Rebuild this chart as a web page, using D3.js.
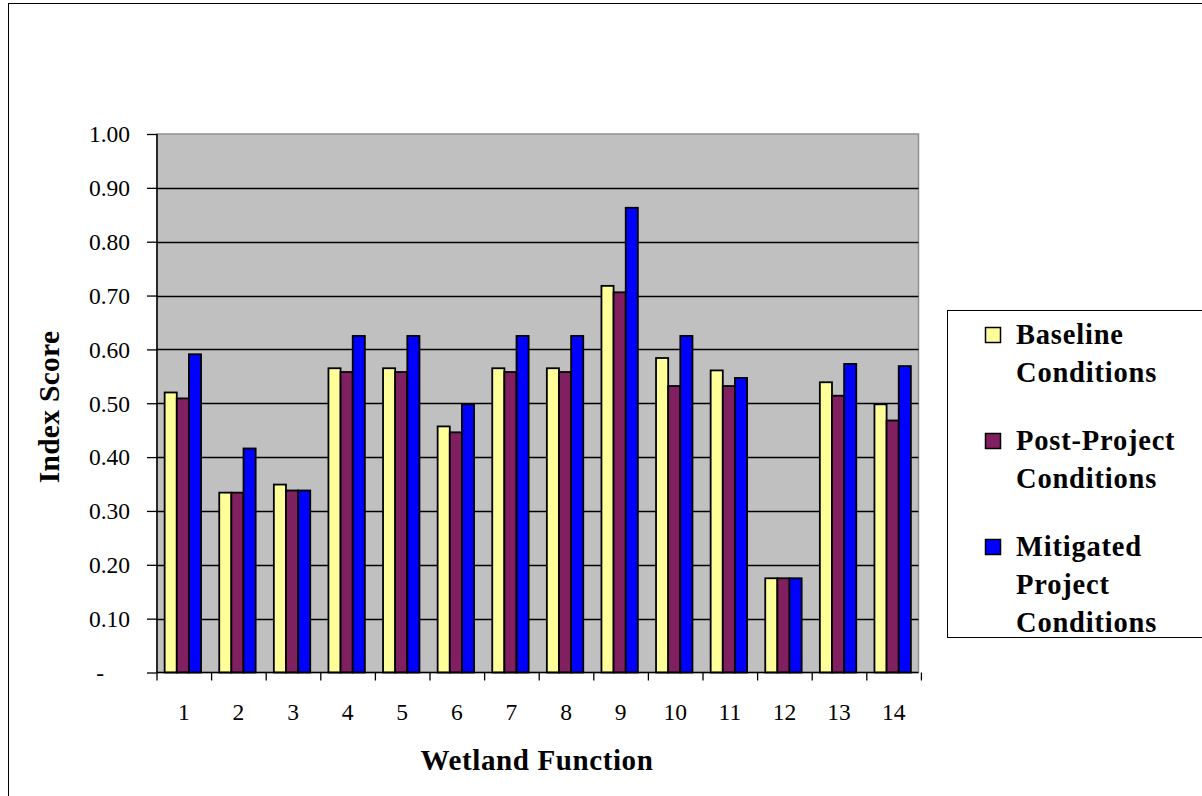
<!DOCTYPE html>
<html>
<head>
<meta charset="utf-8">
<script src="https://cdn.jsdelivr.net/npm/d3@7"></script>
<style>
  html, body { margin: 0; padding: 0; background: #fff; }
  svg { display: block; }
  text { font-family: "Liberation Serif", "Times New Roman", serif; fill: #000; }
</style>
</head>
<body>
<svg id="chart" width="1202" height="796"></svg>
<script>
// ---- data ----
const categories = ["1","2","3","4","5","6","7","8","9","10","11","12","13","14"];
const seriesNames = ["Baseline Conditions", "Post-Project Conditions", "Mitigated Project Conditions"];
const baseline    = [0.52, 0.334, 0.349, 0.565, 0.565, 0.457, 0.565, 0.565, 0.718, 0.584, 0.561, 0.175, 0.539, 0.498];
const postProject = [0.509, 0.334, 0.338, 0.558, 0.558, 0.446, 0.558, 0.558, 0.706, 0.532, 0.532, 0.175, 0.514, 0.468];
const mitigated   = [0.591, 0.416, 0.338, 0.625, 0.625, 0.498, 0.625, 0.625, 0.863, 0.625, 0.547, 0.175, 0.573, 0.569];
const yTicks = [0, 0.1, 0.2, 0.3, 0.4, 0.5, 0.6, 0.7, 0.8, 0.9, 1.0];
const yTickLabels = ["-", "0.10", "0.20", "0.30", "0.40", "0.50", "0.60", "0.70", "0.80", "0.90", "1.00"];
const legendLines = [["Baseline", "Conditions"], ["Post-Project", "Conditions"], ["Mitigated", "Project", "Conditions"]];
const colors = ["#FFFF99", "#802060", "#0000FF"];

const seriesValues = [baseline, postProject, mitigated];

const svg = d3.select("#chart");

// outer chart border
svg.append("rect").attr("x", 8.5).attr("y", 3.5).attr("width", 1300).attr("height", 900)
  .attr("fill", "#fff").attr("stroke", "#000").attr("stroke-width", 1);

const plot = { left: 157, right: 918.5, top: 134, bottom: 672.5 };

const x = d3.scaleBand().domain(categories).range([plot.left, plot.right])
  .paddingInner(1/3).paddingOuter(0.14);
const xs = d3.scaleBand().domain(d3.range(seriesNames.length)).range([0, x.bandwidth()]).padding(0);
const y = d3.scaleLinear().domain([0, 1]).range([plot.bottom, plot.top]);

// plot background
svg.append("rect").attr("x", plot.left).attr("y", plot.top)
  .attr("width", plot.right - plot.left).attr("height", plot.bottom - plot.top)
  .attr("fill", "#C0C0C0").attr("stroke", "#909090").attr("stroke-width", 1.5);

// gridlines
svg.append("g").selectAll("line").data(yTicks.filter(t => t > 0 && t < 1)).join("line")
  .attr("x1", plot.left).attr("x2", plot.right)
  .attr("y1", d => Math.round(y(d)) + 0.5).attr("y2", d => Math.round(y(d)) + 0.5)
  .attr("stroke", "#000").attr("stroke-width", 1.3);

// bars
const groups = svg.append("g").selectAll("g").data(categories).join("g")
  .attr("transform", c => `translate(${x(c)},0)`);
groups.selectAll("rect").data((c, i) => seriesValues.map((vals, s) => ({ s, v: vals[i] }))).join("rect")
  .attr("x", d => xs(d.s))
  .attr("y", d => y(d.v))
  .attr("width", xs.bandwidth())
  .attr("height", d => y(0) - y(d.v))
  .attr("fill", d => colors[d.s])
  .attr("stroke", "#000").attr("stroke-width", 1.8);

// y axis
const yAxis = d3.axisLeft(y).tickValues(yTicks).tickSize(10).tickPadding(17)
  .tickFormat((d, i) => yTickLabels[i]);
const yg = svg.append("g").attr("transform", `translate(${plot.left},0)`).call(yAxis);
yg.select(".domain").attr("stroke", "#000").attr("stroke-width", 1.5).attr("d", `M0,${plot.top}V${plot.bottom}`);
yg.selectAll(".tick line").attr("stroke", "#000").attr("stroke-width", 1.3);
yg.selectAll(".tick text")
  .attr("font-size", 23.5).attr("dy", "0.33em")
  .attr("dx", (d, i) => yTickLabels[i] === "-" ? -26 : 0);

// x axis line and boundary ticks
svg.append("line").attr("x1", plot.left).attr("x2", plot.right)
  .attr("y1", plot.bottom).attr("y2", plot.bottom).attr("stroke", "#000").attr("stroke-width", 1.5);
const bounds = d3.range(categories.length + 1).map(i => plot.left + i * x.step());
svg.append("g").selectAll("line").data(bounds).join("line")
  .attr("x1", d => d).attr("x2", d => d)
  .attr("y1", plot.bottom).attr("y2", plot.bottom + 8)
  .attr("stroke", "#000").attr("stroke-width", 1.3);
svg.append("g").selectAll("text").data(categories).join("text")
  .attr("x", c => x(c) + x.bandwidth() / 2 + 1)
  .attr("y", 720)
  .attr("text-anchor", "middle").attr("font-size", 23.5)
  .text(c => c);

// axis titles
svg.append("text").attr("x", 537).attr("y", 770).attr("text-anchor", "middle")
  .attr("font-size", 29).attr("font-weight", "bold").attr("letter-spacing", 0.6).text("Wetland Function");
svg.append("text").attr("transform", "translate(59,407) rotate(-90)").attr("text-anchor", "middle")
  .attr("font-size", 29.5).attr("font-weight", "bold").attr("letter-spacing", 0.3).text("Index Score");

// legend
svg.append("rect").attr("x", 947.5).attr("y", 310.5).attr("width", 300).attr("height", 327)
  .attr("fill", "#fff").attr("stroke", "#000").attr("stroke-width", 1);
const legendStart = [344, 450, 556];
const lineH = 38;
const lg = svg.append("g").selectAll("g").data(seriesNames).join("g");
lg.append("rect").attr("x", 985.5).attr("y", (d, i) => legendStart[i] - 16.5)
  .attr("width", 15).attr("height", 15)
  .attr("fill", (d, i) => colors[i]).attr("stroke", "#000").attr("stroke-width", 1.5);
lg.each(function(d, i) {
  d3.select(this).selectAll("text").data(legendLines[i]).join("text")
    .attr("x", 1016).attr("y", (t, j) => legendStart[i] + j * lineH)
    .attr("font-size", 28.5).attr("font-weight", "bold").attr("letter-spacing", 0.8)
    .text(t => t);
});
</script>
</body>
</html>
